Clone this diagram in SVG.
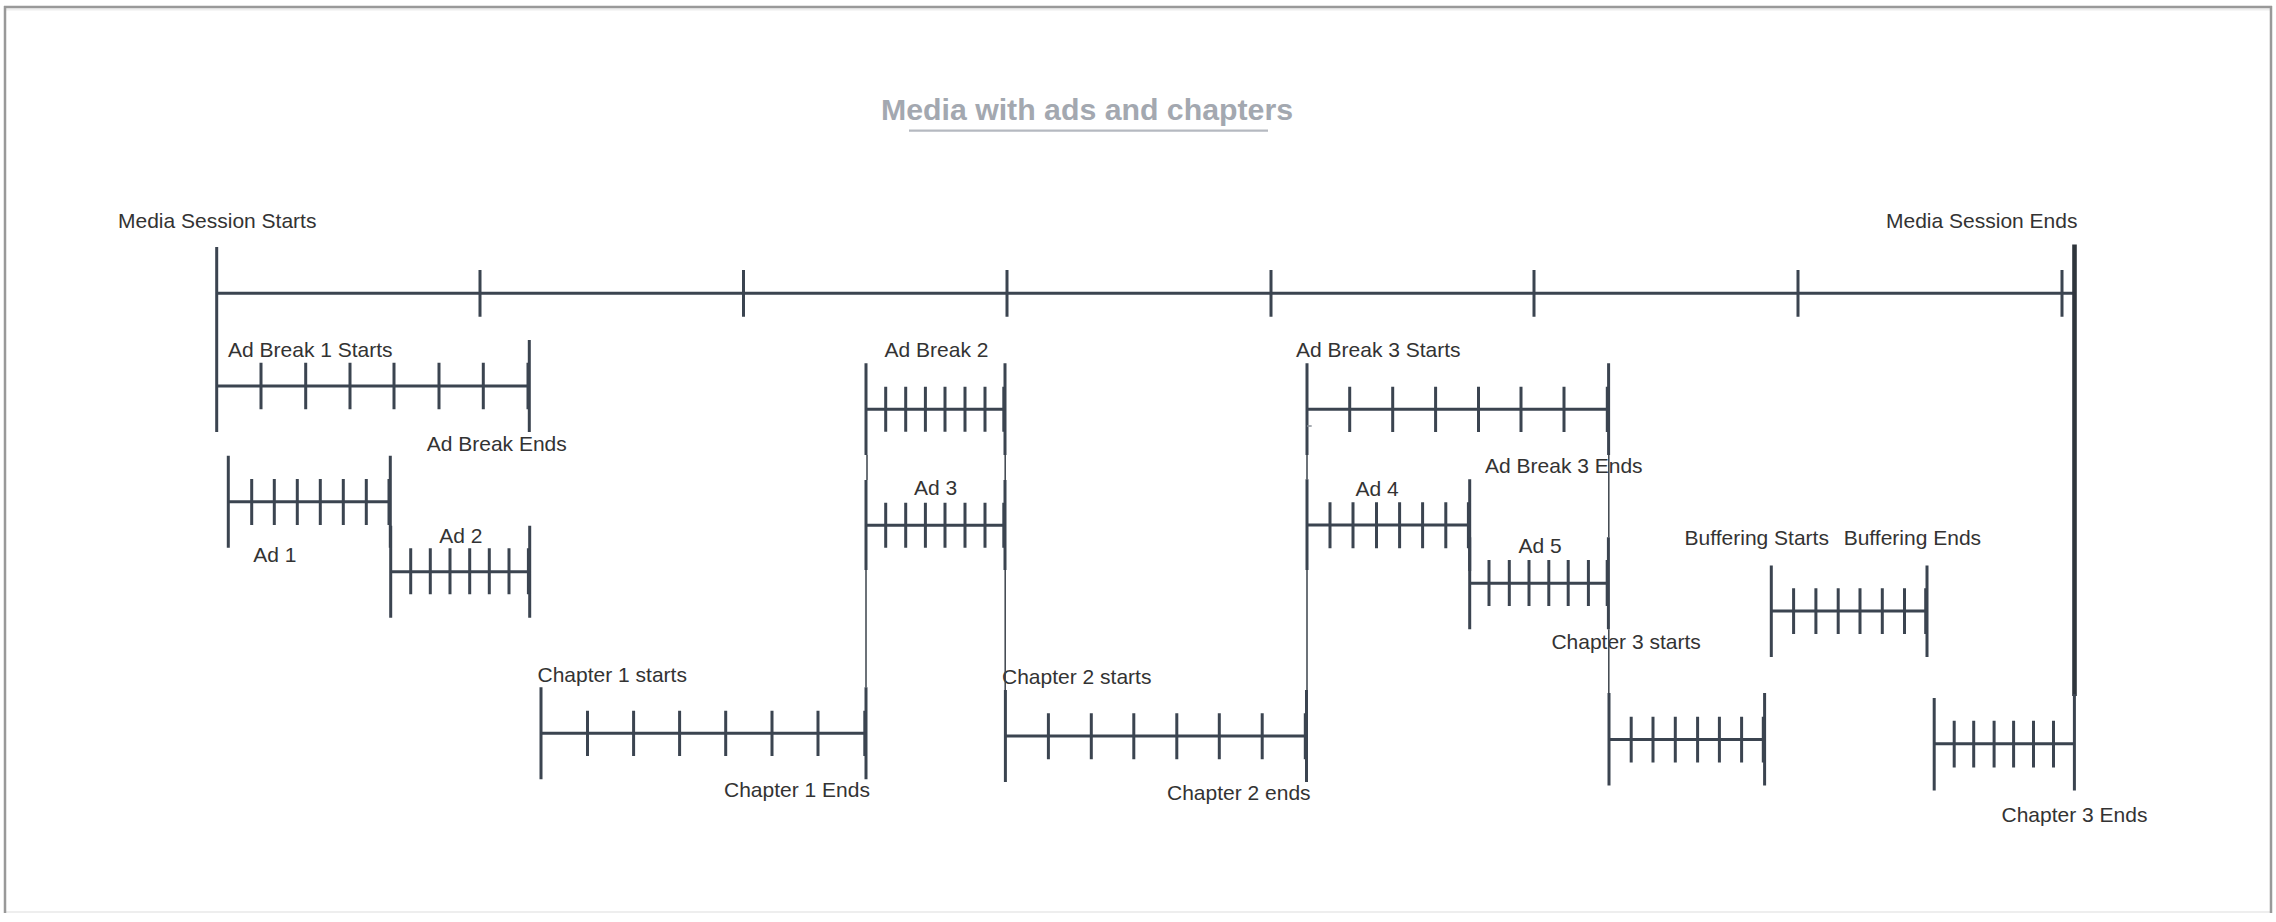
<svg xmlns="http://www.w3.org/2000/svg" width="2276" height="922" viewBox="0 0 2276 922">
<style>
.t{font-family:"Liberation Sans",Arial,sans-serif;font-size:21px;fill:#333}
.title{font-family:"Liberation Sans",Arial,sans-serif;font-size:30px;font-weight:bold;fill:#a3a8b0}
.ln{stroke:#3b4450;stroke-width:3;fill:none}
.cn{stroke:#3d444c;stroke-width:1.5;fill:none}
</style>
<rect x="0" y="0" width="2276" height="922" fill="#fff"/>
<g id="frame">
<line x1="6" y1="9.5" x2="2270" y2="9.5" stroke="#eeeeee" stroke-width="2"/>
<line x1="6" y1="912" x2="2270" y2="912" stroke="#eeeeee" stroke-width="2"/>
<line x1="4" y1="7" x2="2272" y2="7" stroke="#999" stroke-width="2.5"/>
<line x1="5" y1="6" x2="5" y2="913" stroke="#999" stroke-width="2.5"/>
<line x1="2271" y1="6" x2="2271" y2="913" stroke="#999" stroke-width="2.5"/>
</g>
<g id="title">
<text class="title" x="881" y="120" textLength="412" lengthAdjust="spacingAndGlyphs">Media with ads and chapters</text>
<line x1="909" y1="130.7" x2="1268" y2="130.7" stroke="#b5b9c0" stroke-width="2.3"/>
</g>
<g id="media-session">
<path class="ln" d="M216.7 247V432M216.7 293.3H2074M480 270V316.7M743.5 270V316.7M1007 270V316.7M1271 270V316.7M1534 270V316.7M1798 270V316.7M2062 270V316.7"/>
<line x1="2074.5" y1="244.6" x2="2074.5" y2="696" stroke="#2f353c" stroke-width="4.6"/>
<text class="t" x="118" y="228">Media Session Starts</text>
<text class="t" x="1886" y="228">Media Session Ends</text>
</g>
<g id="ad-break-1">
<path class="ln" d="M216.7 386H528M261 362.7V409.3M305.7 362.7V409.3M350 362.7V409.3M394 362.7V409.3M439 362.7V409.3M483.3 362.7V409.3M529.3 340V432M528 362.7V409.3"/>
<text class="t" x="228" y="357">Ad Break 1 Starts</text>
<text class="t" x="426.7" y="450.7">Ad Break Ends</text>
</g>
<g id="ad-1">
<path class="ln" d="M228.3 455.7V547.7M228.3 501.7H389.3M251.7 479V525M274.3 479V525M297.3 479V525M320.3 479V525M343.3 479V525M366.3 479V525M390.3 455.7V547.7M389 479V525"/>
<text class="t" x="253.3" y="562.3">Ad 1</text>
</g>
<g id="ad-2">
<path class="ln" d="M390.7 525.7V617.7M390.7 571.7H528.5M410.7 548.3V594.3M430.3 548.3V594.3M450 548.3V594.3M469.7 548.3V594.3M489.3 548.3V594.3M509 548.3V594.3M529.7 525.7V617.7M528.4 548.3V594.3"/>
<text class="t" x="439.3" y="543.3">Ad 2</text>
</g>
<g id="ad-break-2">
<path class="ln" d="M866 363.3V455M866 409.3H1004M885.7 386.7V431.7M905.7 386.7V431.7M925.4 386.7V431.7M945 386.7V431.7M965 386.7V431.7M985 386.7V431.7M1005 363.3V455M1003.8 386.7V431.7"/>
<text class="t" x="884.6" y="356.7">Ad Break 2</text>
</g>
<g id="ad-3">
<path class="ln" d="M866 480V570M866 525.3H1004M885.7 502.7V547.7M905.7 502.7V547.7M925.4 502.7V547.7M945 502.7V547.7M965 502.7V547.7M985 502.7V547.7M1005 480V570M1003.8 502.7V547.7"/>
<text class="t" x="914" y="495">Ad 3</text>
</g>
<g id="chapter-1">
<path class="ln" d="M541 687.3V779.3M541 733.3H865M587.5 710.7V756M633.6 710.7V756M679.6 710.7V756M725.7 710.7V756M772 710.7V756M818 710.7V756M866 687.3V779.3M864.8 710.7V756"/>
<text class="t" x="537.5" y="681.7">Chapter 1 starts</text>
<text class="t" x="724" y="797">Chapter 1 Ends</text>
</g>
<g id="chapter-2">
<path class="ln" d="M1005.4 690V782M1005.4 736H1305.5M1048.4 713.3V759.3M1091.3 713.3V759.3M1133.8 713.3V759.3M1176.8 713.3V759.3M1219.3 713.3V759.3M1262.2 713.3V759.3M1306.5 690V782M1305.3 713.3V759.3"/>
<text class="t" x="1002" y="684">Chapter 2 starts</text>
<text class="t" x="1167" y="800">Chapter 2 ends</text>
</g>
<g id="ad-break-3">
<path class="ln" d="M1307 363.3V455M1307 409.3H1607.5M1349.7 386.7V432M1392.7 386.7V432M1435.6 386.7V432M1478.5 386.7V432M1521 386.7V432M1564 386.7V432M1608.6 363.3V455M1607.3 386.7V432"/>
<line x1="1307" y1="426" x2="1311.7" y2="426" stroke="#8a9098" stroke-width="1.5"/>
<text class="t" x="1296" y="356.7">Ad Break 3 Starts</text>
<text class="t" x="1485" y="472.7">Ad Break 3 Ends</text>
</g>
<g id="ad-4">
<path class="ln" d="M1307 479.3V570M1307 525H1468.4M1330 502.3V548.3M1353 502.3V548.3M1376.5 502.3V548.3M1399.6 502.3V548.3M1422.6 502.3V548.3M1445.8 502.3V548.3M1469.7 479.3V571M1468.4 502.3V548.3"/>
<text class="t" x="1355.6" y="496">Ad 4</text>
</g>
<g id="ad-5">
<path class="ln" d="M1469.7 537.3V629.3M1469.7 583.3H1607.3M1489 560V606M1509.3 560V606M1529 560V606M1548.8 560V606M1568.2 560V606M1588.4 560V606M1608.4 537.3V629.3M1607.2 560V606"/>
<text class="t" x="1518.5" y="553.3">Ad 5</text>
</g>
<g id="chapter-3-part-1">
<path class="ln" d="M1609 693V785.4M1609 739.6H1763.4M1631.2 716.7V762.5M1653 716.7V762.5M1675.3 716.7V762.5M1697.6 716.7V762.5M1719.4 716.7V762.5M1741.6 716.7V762.5M1764.6 693V785.4M1763.3 716.7V762.5"/>
<text class="t" x="1551.4" y="649">Chapter 3 starts</text>
</g>
<g id="buffering">
<path class="ln" d="M1771.3 565.4V657M1771.3 611H1925.8M1793.6 588.3V634M1815.9 588.3V634M1838.2 588.3V634M1860 588.3V634M1882.3 588.3V634M1904.5 588.3V634M1927 565.4V657M1925.7 588.3V634"/>
<text class="t" x="1684.6" y="545">Buffering Starts</text>
<text class="t" x="1843.7" y="545">Buffering Ends</text>
</g>
<g id="chapter-3-part-2">
<path class="ln" d="M1934.2 698V790.4M1934.2 743.8H2073.5M1954.2 720.8V767.5M1973.7 720.8V767.5M1994.1 720.8V767.5M2013.6 720.8V767.5M2033.5 720.8V767.5M2053.5 720.8V767.5M2074.4 694V790.4"/>
<text class="t" x="2001.5" y="822">Chapter 3 Ends</text>
</g>
<g id="connectors">
<path class="cn" d="M867 455V480M866 570V687.3M1005.2 455V480M1005.2 570V690M1307 455V479.3M1307 570V690M1608.8 455V537.3M1608.8 629.3V693"/>
</g>
</svg>
